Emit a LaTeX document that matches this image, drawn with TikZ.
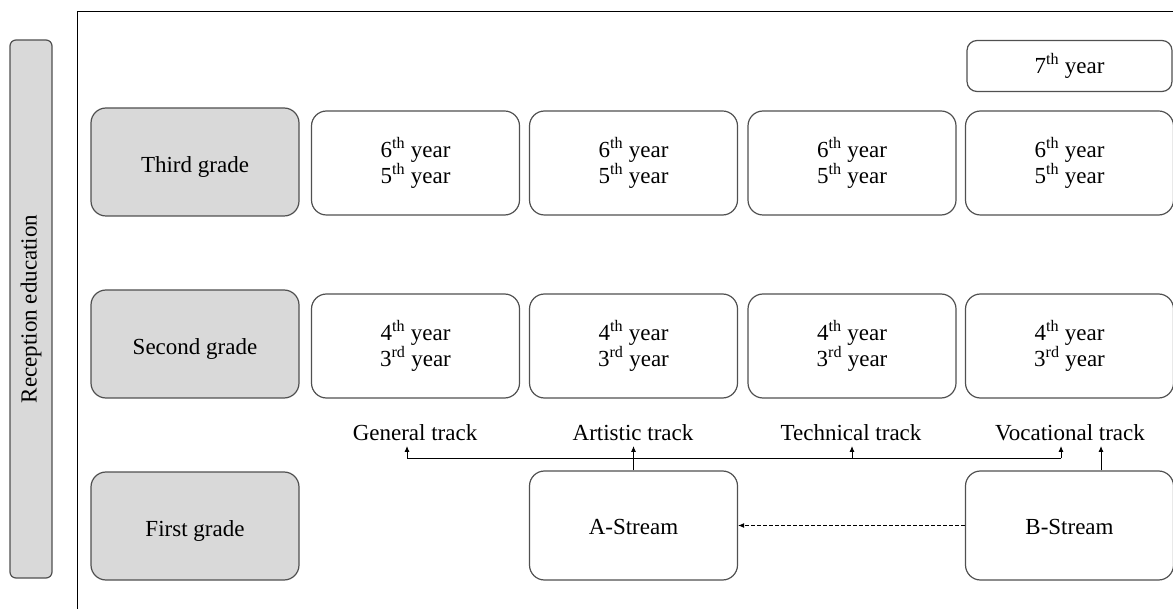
\documentclass[tikz,border=0pt]{standalone}
\usepackage{fontspec}
\setmainfont{Liberation Serif}
\usetikzlibrary{arrows.meta}
\definecolor{boxgray}{HTML}{D9D9D9}
\definecolor{edgegray}{HTML}{505050}
\tikzset{
  every node/.style={font=\fontsize{23}{26}\selectfont, inner sep=0pt},
  gradebox/.style={draw=edgegray, line width=1.2pt, fill=boxgray, rounded corners=15pt,
    minimum width=208pt, minimum height=108pt, align=center, text height=21pt, text depth=0pt},
  yearbox/.style={draw=edgegray, line width=1.2pt, fill=white, rounded corners=15pt,
    minimum width=208pt, minimum height=104pt, align=center},
  streambox/.style={draw=edgegray, line width=1.2pt, fill=white, rounded corners=15pt,
    minimum width=208pt, minimum height=109pt, align=center, text height=18pt, text depth=0pt},
  tracklabel/.style={anchor=base},
  conn/.style={line width=0.9pt, -{Latex[length=6pt,width=5pt]}},
}
\begin{document}
\begin{tikzpicture}[x=1pt,y=-1pt]
\useasboundingbox (0,0) rectangle (1173,609);
% frame
\draw[line width=1pt] (77,609) -- (77,12) -- (1174,12);
% reception education
\node[draw=edgegray, line width=1.2pt, fill=boxgray, rounded corners=6pt,
  minimum width=42pt, minimum height=538pt] (rec) at (31,309) {};
\node[rotate=90] (rectext) at (rec.center) {Reception education};
% grades
\node[gradebox] (g3) at (195,162) {Third grade};
\node[gradebox] (g2) at (195,344) {Second grade};
\node[gradebox] (g1) at (195,526) {First grade};
% year boxes
\def\thirdtxt{6\textsuperscript{th} year\\5\textsuperscript{th} year}
\def\secondtxt{4\textsuperscript{th} year\\3\textsuperscript{rd} year}
\node[yearbox] (a3) at (415.5,163) {\thirdtxt};
\node[yearbox] (b3) at (633.5,163) {\thirdtxt};
\node[yearbox] (c3) at (852,163) {\thirdtxt};
\node[yearbox] (d3) at (1069.5,163) {\thirdtxt};
\node[yearbox] (a2) at (415.5,346) {\secondtxt};
\node[yearbox] (b2) at (633.5,346) {\secondtxt};
\node[yearbox] (c2) at (852,346) {\secondtxt};
\node[yearbox] (d2) at (1069.5,346) {\secondtxt};
\node[draw=edgegray, line width=1.2pt, fill=white, rounded corners=10pt,
  minimum width=205pt, minimum height=51pt] (d7) at (1069.5,66) {7\textsuperscript{th} year};
% track labels
\node[tracklabel] (tg) at (415,441) {General track};
\node[tracklabel] (ta) at (633,441) {Artistic track};
\node[tracklabel] (tt) at (851,441) {Technical track};
\node[tracklabel] (tv) at (1070,441) {Vocational track};
% streams
\node[streambox] (sa) at (633.5,525.5) {A-Stream};
\node[streambox] (sb) at (1069.5,525.5) {B-Stream};
% connectors
\coordinate (hl) at (407,458.5);
\coordinate (hr) at (1061,458.5);
\coordinate (pg) at (407,446);
\coordinate (pt) at (852,446);
\coordinate (pv) at (1061,446);
\draw[line width=0.9pt] (hl) -- (hr);
\draw[conn] (hl) -- (pg);
\draw[conn] (sa.north) -- (sa.north |- pg);
\draw[conn] (pt |- hl) -- (pt);
\draw[conn] (hr) -- (pv);
\draw[conn] (sb.north -| 1101,0) -- (1101,446);
\draw[line width=0.9pt, dashed, dash pattern=on 4pt off 2pt, -{Latex[length=6pt,width=5pt]}] (sb.west) -- (sa.east);
\end{tikzpicture}
\end{document}
